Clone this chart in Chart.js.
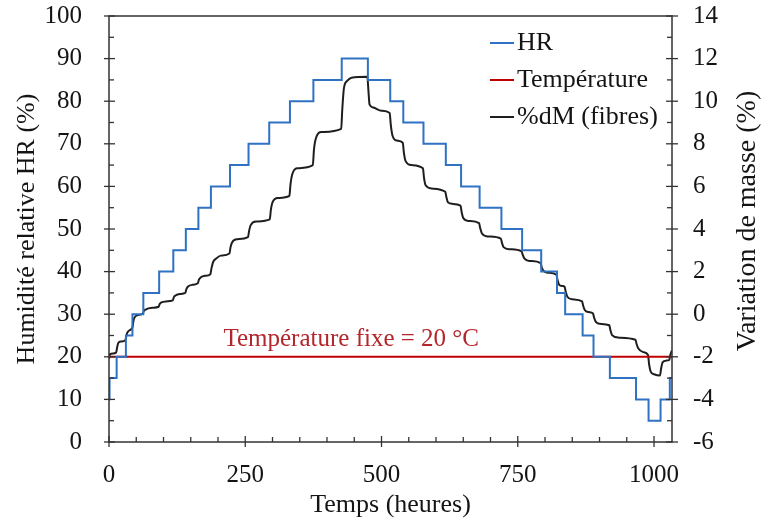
<!DOCTYPE html>
<html><head><meta charset="utf-8">
<script src="https://cdn.jsdelivr.net/npm/chart.js@4.4.1/dist/chart.umd.min.js"></script>
<style>html,body{margin:0;padding:0;background:#fff;}canvas{display:block;}</style>
</head><body>
<canvas id="c" width="763" height="522"></canvas>
<script>
// ---- data ----
const hrTime  = [0, 1, 14, 31, 43, 63, 92, 118, 141, 164, 187, 222, 256, 294, 332, 375, 427, 475, 516, 540, 577, 618, 646, 680, 720, 758, 793, 822, 837, 869, 889, 919, 967, 990, 1012, 1029, 1033];
const hrValue = [10, 15, 20, 25, 30, 35, 40, 45, 50, 55, 60, 65, 70, 75, 80, 85, 90, 85, 80, 75, 70, 65, 60, 55, 50, 45, 40, 35, 30, 25, 20, 15, 10, 5, 10, 15, 15];

const tempTime  = [0, 1033];
const tempValue = [20, 20];

const dmTime = [0, 2, 13, 15, 17, 22, 30, 32, 34, 40, 43, 45, 47, 52, 62, 64, 67, 80, 91, 93, 96, 105, 117, 119, 122, 130, 140, 142, 145, 153, 163, 165, 168, 176, 186, 188, 191, 196, 205, 221, 223, 226, 235, 255, 257, 260, 270, 295, 297, 300, 310, 331, 333, 336, 345, 374, 376, 379, 390, 426, 428, 431, 437, 445, 474,
  476, 478, 485, 500, 515, 517, 520, 528, 539, 541, 544, 555, 576, 578, 581, 592, 617, 619, 622, 630, 645, 647, 650, 660, 679, 681, 684, 695, 719, 721, 724, 735, 757, 759, 762, 772, 792, 794, 797, 805, 821, 823, 826, 832, 836, 838, 841, 850, 868, 870, 873, 880, 888, 890, 893, 900, 918, 920, 923, 935, 966, 968, 971, 980, 989, 991, 994, 1000, 1011, 1013, 1016, 1022, 1028, 1030, 1033];
const dmValue = [-2.1, -1.88, -1.8, -1.55, -1.35, -1.28, -1.22, -1.0, -0.85, -0.72, -0.62, -0.3, -0.15, -0.05, 0.03, 0.15, 0.22, 0.3, 0.35, 0.48, 0.55, 0.6, 0.65, 0.8, 0.88, 0.95, 1.0, 1.18, 1.3, 1.38, 1.45, 1.62, 1.72, 1.8, 1.88, 2.15, 2.45, 2.6, 2.75, 2.85, 3.15, 3.38, 3.52, 3.62, 3.9, 4.18, 4.35, 4.45, 4.9, 5.25, 5.45, 5.55, 6.1, 6.55, 6.85, 7.0, 7.7, 8.2, 8.55, 8.7, 9.6, 10.6, 10.95, 11.1, 11.15,
  10.5, 9.85, 9.7, 9.55, 9.45, 8.9, 8.4, 8.15, 8.05, 7.6, 7.2, 7.0, 6.85, 6.4, 6.05, 5.9, 5.75, 5.5, 5.25, 5.18, 5.1, 4.8, 4.52, 4.38, 4.28, 4.05, 3.8, 3.65, 3.55, 3.35, 3.15, 3.05, 2.95, 2.8, 2.62, 2.5, 2.4, 2.2, 2.05, 1.95, 1.85, 1.6, 1.38, 1.32, 1.28, 1.05, 0.82, 0.7, 0.6, 0.4, 0.2, 0.1, 0.03, -0.15, -0.35, -0.45, -0.52, -0.75, -0.98, -1.1, -1.2, -1.4, -1.6, -1.78, -1.92, -2.35, -2.7, -2.82, -2.88, -2.55, -2.25, -2.18, -2.15, -1.9, -1.7];

const xTicks = [0, 250, 500, 750, 1000];
const yLeftTicks = [0, 10, 20, 30, 40, 50, 60, 70, 80, 90, 100];
const yRightTicks = [-6, -4, -2, 0, 2, 4, 6, 8, 10, 12, 14];
const seriesLabels = ['HR', 'Température', '%dM (fibres)'];
const xTitle = 'Temps (heures)';
const yLeftTitle = 'Humidité relative HR (%)';
const yRightTitle = 'Variation de masse (%)';
const annotationText = 'Température fixe = 20 °C';

// ---- styles ----
const FONT = "'Liberation Serif', 'Times New Roman', serif";
const TEXT = '#141414';
const AXIS = '#333333';
const BLUE = '#2f72c4';
const RED = '#c00000';
const BLACK = '#1e1e1e';

const toXY = (xs, ys) => xs.map((x, i) => ({x: x, y: ys[i]}));

const frame = {
  id: 'frame',
  afterDatasetsDraw(chart) {
    const ctx = chart.ctx, a = chart.chartArea;
    const xs = chart.scales.x, yl = chart.scales.y, yr = chart.scales.y2;
    ctx.save();
    ctx.strokeStyle = AXIS; ctx.lineWidth = 1.5;
    ctx.strokeRect(a.left, a.top, a.right - a.left, a.bottom - a.top);
    ctx.lineWidth = 1.3;
    const seg = (x1, y1, x2, y2) => { ctx.beginPath(); ctx.moveTo(x1, y1); ctx.lineTo(x2, y2); ctx.stroke(); };
    for (let v = 0; v <= xs.max; v += 50) {
      const p = xs.getPixelForValue(v);
      if (v % 250 === 0) seg(p, a.bottom + 5, p, a.bottom - 6); else seg(p, a.bottom, p, a.bottom - 5);
    }
    for (let v = 0; v <= 100; v += 5) {
      const p = yl.getPixelForValue(v);
      if (v % 10 === 0) seg(a.left - 5, p, a.left + 6, p); else seg(a.left, p, a.left + 5, p);
    }
    for (let v = -6; v <= 14; v += 1) {
      const p = yr.getPixelForValue(v);
      if ((v + 6) % 2 === 0) seg(a.right - 6, p, a.right + 6, p); else seg(a.right - 5, p, a.right, p);
    }
    // annotation
    ctx.font = '25px ' + FONT;
    ctx.fillStyle = '#b3262b';
    ctx.textBaseline = 'alphabetic'; ctx.textAlign = 'left';
    ctx.fillText(annotationText, xs.getPixelForValue(210), yl.getPixelForValue(22.5));
    // legend
    const colors = [BLUE, RED, BLACK];
    ctx.font = '26px ' + FONT;
    ctx.textBaseline = 'middle';
    ctx.fillStyle = TEXT;
    seriesLabels.forEach((lab, i) => {
      const y = a.top + 27 + i * 37;
      ctx.strokeStyle = colors[i]; ctx.lineWidth = 2;
      seg(490, y, 514, y);
      ctx.fillText(lab, 517, y);
    });
    // right title (reads bottom to top)
    ctx.save();
    ctx.font = '28px ' + FONT;
    ctx.translate(748, (a.top + a.bottom) / 2 - 8);
    ctx.rotate(-Math.PI / 2);
    ctx.textAlign = 'center'; ctx.textBaseline = 'middle';
    ctx.fillStyle = TEXT;
    ctx.fillText(yRightTitle, 0, 0);
    ctx.restore();
    ctx.restore();
  }
};

new Chart(document.getElementById('c'), {
  type: 'line',
  data: {
    datasets: [
      {label: seriesLabels[0], data: toXY(hrTime, hrValue), yAxisID: 'y', borderColor: BLUE, borderWidth: 2, stepped: 'before', pointRadius: 0, fill: false},
      {label: seriesLabels[1], data: toXY(tempTime, tempValue), yAxisID: 'y', borderColor: RED, borderWidth: 2, pointRadius: 0, fill: false},
      {label: seriesLabels[2], data: toXY(dmTime, dmValue), yAxisID: 'y2', borderColor: BLACK, borderWidth: 2, pointRadius: 0, fill: false, cubicInterpolationMode: 'monotone'}
    ]
  },
  options: {
    responsive: false, animation: false, devicePixelRatio: 1,
    layout: {padding: {top: 16, left: 0, right: 0, bottom: 0}},
    plugins: {legend: {display: false}, tooltip: {enabled: false}},
    scales: {
      x: {
        type: 'linear', position: 'bottom', min: 0, max: 1033,
        afterBuildTicks: s => { s.ticks = xTicks.map(v => ({value: v})); },
        afterFit: s => { s.height = 80; },
        grid: {display: false, drawTicks: false}, border: {display: false},
        ticks: {padding: 18, color: TEXT, font: {family: FONT, size: 25}, callback: v => String(v)},
        title: {display: true, text: xTitle, color: TEXT, font: {family: FONT, size: 26}, padding: {top: 0, bottom: 1}}
      },
      y: {
        type: 'linear', position: 'left', min: 0, max: 100,
        afterBuildTicks: s => { s.ticks = yLeftTicks.map(v => ({value: v})); },
        afterFit: s => { s.width = 109; },
        grid: {display: false, drawTicks: true, tickLength: 27}, border: {display: false},
        ticks: {padding: 0, color: TEXT, font: {family: FONT, size: 25}, callback: v => String(v)},
        title: {display: true, text: yLeftTitle, color: TEXT, font: {family: FONT, size: 26}, padding: {top: 12, bottom: 0}}
      },
      y2: {
        type: 'linear', position: 'right', min: -6, max: 14,
        afterBuildTicks: s => { s.ticks = yRightTicks.map(v => ({value: v})); },
        afterFit: s => { s.width = 91; },
        grid: {display: false, drawTicks: true, tickLength: 21}, border: {display: false},
        ticks: {padding: 0, color: TEXT, font: {family: FONT, size: 25}, callback: v => String(v)}
      }
    }
  },
  plugins: [frame]
});
</script>
</body></html>
